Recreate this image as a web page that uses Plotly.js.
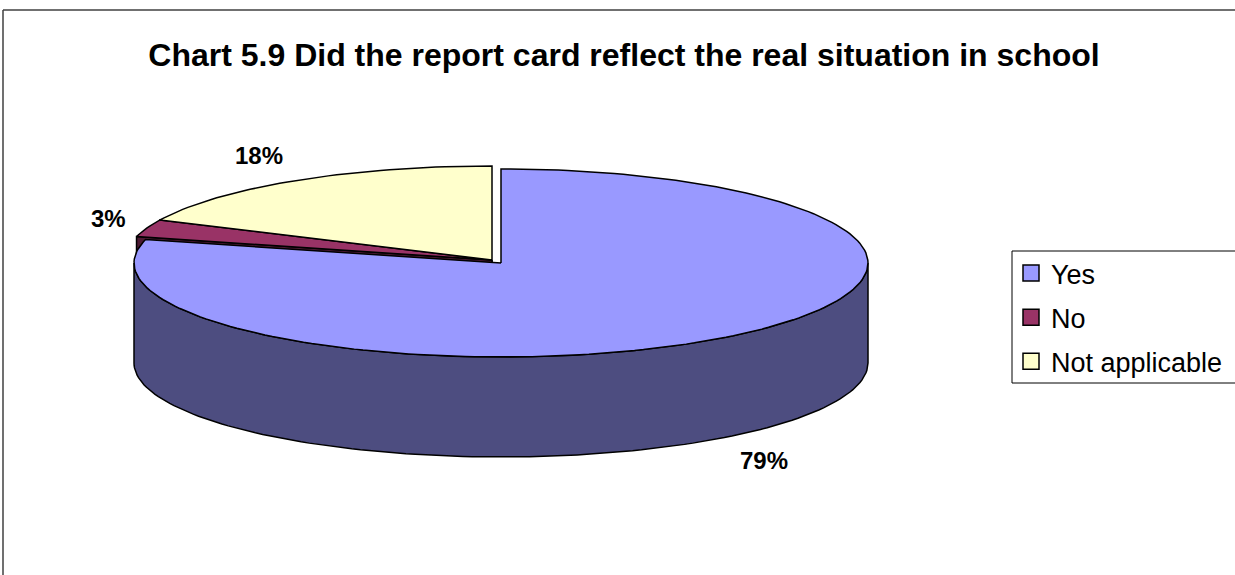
<!DOCTYPE html>
<html><head><meta charset="utf-8">
<script src="https://cdn.plot.ly/plotly-3.0.1.min.js"></script>
<style>html,body{margin:0;padding:0;background:#fff}#chart{width:1235px;height:575px}</style>
</head><body><div id="chart"></div>
<script>
// ---- data ----
const categories = ['Yes', 'No', 'Not applicable'];
const values = [79, 3, 18];
const chartTitle = 'Chart 5.9 Did the report card reflect the real situation in school';

// ---- styles ----
const topColors = ['#9999FF', '#993366', '#FFFFCC'];
const sideColors = ['#4D4D80', '#4D1A33', '#80805F'];
const explode = [0.04, 0, 0];
const FONT = 'Liberation Sans, Arial, sans-serif';

// ---- geometry (pixel units of the axes) ----
const W = 1235, H = 575;
const CX = 492, CY = 260, RX = 367, RY = 94, DEPTH = 100;
const rad = d => d * Math.PI / 180;
const total = values.reduce((a, b) => a + b, 0);

function pt(c, a, dz) { return [c[0] + RX * Math.cos(rad(a)), c[1] - RY * Math.sin(rad(a)) + (dz || 0)]; }
function arc(c, from, to, dz) {
  const n = Math.max(2, Math.ceil(Math.abs(to - from) / 1.5));
  const out = [];
  for (let k = 0; k <= n; k++) out.push(pt(c, from + (to - from) * k / n, dz));
  return out;
}

const slices = [];
let cum = 0;
values.forEach((v, i) => {
  const a0 = 90 - 360 * cum / total;
  const a1 = 90 - 360 * (cum + v) / total;
  cum += v;
  const am = (a0 + a1) / 2;
  const c = [CX + explode[i] * RX * Math.cos(rad(am)), CY - explode[i] * RY * Math.sin(rad(am))];
  slices.push({ i, a0, a1, am, c });
});

const traces = [];
function poly(points, fill) {
  traces.push({
    type: 'scatter', mode: 'lines', fill: 'toself', fillcolor: fill,
    x: points.map(p => p[0]), y: points.map(p => p[1]),
    line: { color: '#000000', width: 1.5 }, showlegend: false, hoverinfo: 'skip'
  });
}

// radial cut faces facing the viewer, back to front
const faces = [];
slices.forEach(s => {
  if (Math.cos(rad(s.a0)) < -1e-6) faces.push({ s, a: s.a0 });
  if (Math.cos(rad(s.a1)) > 1e-6) faces.push({ s, a: s.a1 });
});
faces.sort((p, q) => Math.sin(rad(q.a)) - Math.sin(rad(p.a)));
faces.forEach(f => {
  const c = f.s.c;
  poly([c, pt(c, f.a), pt(c, f.a, DEPTH), [c[0], c[1] + DEPTH], c], sideColors[f.s.i]);
});

// outer walls (front half only)
slices.forEach(s => {
  for (let k = -2; k <= 1; k++) {
    const lo = Math.max(s.a1, -180 + 360 * k);
    const hi = Math.min(s.a0, 360 * k);
    if (hi - lo > 1e-6) {
      const pts = arc(s.c, lo, hi, 0).concat(arc(s.c, hi, lo, DEPTH));
      pts.push(pts[0]);
      poly(pts, sideColors[s.i]);
    }
  }
});

// top faces
slices.forEach(s => {
  poly([s.c].concat(arc(s.c, s.a0, s.a1, 0), [s.c]), topColors[s.i]);
});

// legend entries
categories.forEach((name, i) => {
  traces.push({
    type: 'scatter', mode: 'markers', x: [null], y: [null], name: name,
    marker: { symbol: 'square', size: 16, color: topColors[i], line: { color: '#000000', width: 1.5 } },
    legendgroup: 'g' + i, hoverinfo: 'skip'
  });
});

// percentage labels
const annotations = slices.map(s => {
  const cv = Math.cos(rad(s.am)), sv = Math.sin(rad(s.am));
  return {
    x: s.c[0] + (RX + 20) * cv,
    y: s.c[1] - (RY + 30) * sv + (sv < 0 ? DEPTH : 0),
    xref: 'x', yref: 'y', showarrow: false,
    text: Math.round(values[s.i] / total * 100) + '%',
    xanchor: cv >= 0 ? 'left' : 'right', yanchor: 'middle',
    font: { family: FONT, size: 24, color: '#000000', weight: 'bold' }
  };
});

const layout = {
  width: W, height: H,
  margin: { l: 0, r: 0, t: 0, b: 0, pad: 0 },
  paper_bgcolor: '#ffffff', plot_bgcolor: '#ffffff',
  xaxis: { range: [0, W], visible: false, fixedrange: true },
  yaxis: { range: [H, 0], visible: false, fixedrange: true },
  title: {
    text: chartTitle, x: 624 / W, xanchor: 'center', y: 1 - 55 / H, yanchor: 'middle',
    font: { family: FONT, size: 32, color: '#000000', weight: 'bold' }
  },
  showlegend: true,
  legend: {
    x: 1011 / W, y: 1 - 249 / H, xanchor: 'left', yanchor: 'top',
    borderwidth: 0, bgcolor: 'rgba(0,0,0,0)',
    font: { family: FONT, size: 27, color: '#000000' },
    tracegroupgap: 6
  },
  annotations: annotations,
  shapes: [
    { type: 'line', xref: 'x', yref: 'y', x0: 3, x1: W, y0: 10, y1: 10, line: { color: '#404040', width: 1.5 } },
    { type: 'line', xref: 'x', yref: 'y', x0: 3, x1: 3, y0: 10, y1: H, line: { color: '#404040', width: 1.5 } },
    { type: 'rect', xref: 'x', yref: 'y', x0: 1012, x1: W + 10, y0: 251, y1: 383, line: { color: '#000000', width: 1 }, fillcolor: 'rgba(0,0,0,0)', layer: 'below' }
  ]
};

Plotly.newPlot('chart', traces, layout, { displayModeBar: false, staticPlot: true });
</script>
</body></html>
